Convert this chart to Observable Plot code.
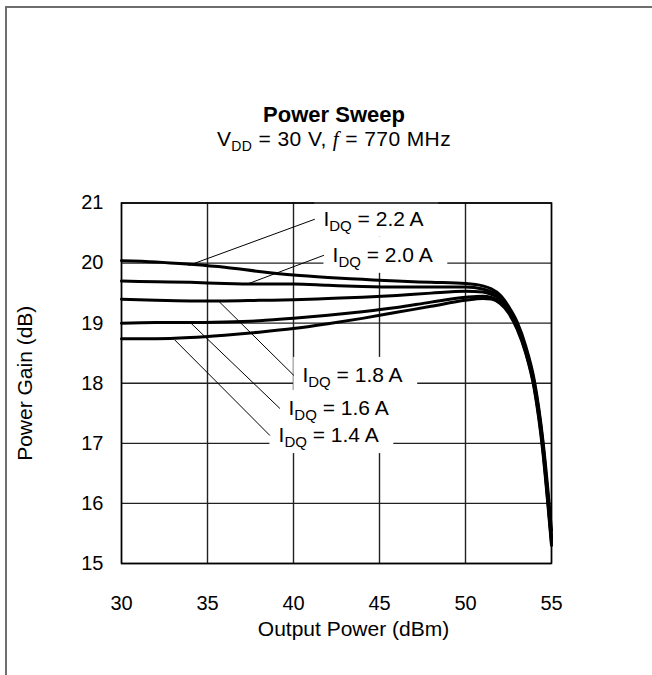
<!DOCTYPE html>
<html>
<head>
<meta charset="utf-8">
<script src="https://cdn.jsdelivr.net/npm/d3@7"></script>
<script src="https://cdn.jsdelivr.net/npm/@observablehq/plot@0.6"></script>
<style>
html, body { margin: 0; padding: 0; background: #fff; }
#page { position: relative; width: 652px; height: 675px; overflow: hidden;
        font-family: "Liberation Sans", Arial, sans-serif; color: #000; }
#border { position: absolute; left: 5px; top: 6px; width: 720px; height: 720px;
          border-left: 2px solid #6e6e6e; border-top: 2px solid #6e6e6e; pointer-events: none; }
#head { position: relative; height: 150px; }
#title { position: absolute; left: 0; width: 668px; top: 103px; text-align: center;
         font-weight: bold; font-size: 22px; line-height: 24px; }
#subtitle { position: absolute; left: 0; width: 668px; top: 127px; text-align: center;
            font-size: 21px; line-height: 24px; letter-spacing: 0.4px; }
#subtitle sub { font-size: 14px; vertical-align: -5px; line-height: 0; }
#subtitle i { font-family: "Liberation Serif", "DejaVu Serif", serif; font-style: italic; }
#chart { position: relative; }
</style>
</head>
<body>
<div id="page">
  <div id="border"></div>
  <div id="head">
    <div id="title">Power Sweep</div>
    <div id="subtitle">V<sub>DD</sub> = 30 V, <i>f</i> = 770 MHz</div>
  </div>
  <div id="chart"></div>
</div>
<script>
// ---- data ----
const xTicks = [30, 35, 40, 45, 50, 55];
const yTicks = [15, 16, 17, 18, 19, 20, 21];

// Output power sweep points (dBm)
const pout = [30, 32, 34, 36, 38, 40, 42, 44, 46, 48, 50, 51, 51.5, 52, 52.5, 53, 53.5, 54, 54.5, 54.8, 55];

// Power gain (dB) for each quiescent current
const gain22 = [20.04, 20.02, 19.98, 19.93, 19.86, 19.80, 19.76, 19.73, 19.70, 19.68, 19.66, 19.62, 19.57, 19.47, 19.28, 19.02, 18.62, 18.05, 17.05, 16.20, 15.55];
const gain20 = [19.70, 19.69, 19.68, 19.66, 19.65, 19.65, 19.63, 19.61, 19.60, 19.60, 19.60, 19.57, 19.52, 19.43, 19.25, 18.98, 18.58, 18.00, 17.00, 16.10, 15.45];
const gain18 = [19.40, 19.38, 19.37, 19.37, 19.38, 19.39, 19.41, 19.43, 19.46, 19.50, 19.53, 19.52, 19.48, 19.40, 19.22, 18.95, 18.55, 17.97, 16.95, 16.05, 15.40];
const gain16 = [19.00, 19.01, 19.01, 19.02, 19.04, 19.08, 19.13, 19.19, 19.26, 19.35, 19.43, 19.45, 19.43, 19.36, 19.19, 18.93, 18.52, 17.93, 16.90, 16.00, 15.35];
const gain14 = [18.74, 18.74, 18.76, 18.80, 18.85, 18.91, 18.99, 19.08, 19.18, 19.28, 19.38, 19.41, 19.40, 19.33, 19.17, 18.90, 18.50, 17.90, 16.85, 15.95, 15.30];

const seriesLabels = ["I_DQ = 2.2 A", "I_DQ = 2.0 A", "I_DQ = 1.8 A", "I_DQ = 1.6 A", "I_DQ = 1.4 A"];
const seriesGains = [gain22, gain20, gain18, gain16, gain14];

// callout: where the leader touches the curve, and where the label sits (data units)
const calloutCurveX = [33.9, 37.4, 35.6, 34.0, 33.1];
const calloutCurveY = [19.96, 19.66, 19.38, 19.01, 18.72];
const calloutLabelX = [41.74, 42.27, 40.52, 39.71, 39.13];
const calloutLabelY = [20.73, 20.13, 18.13, 17.58, 17.13];

// ---- tables built from the arrays ----
const rows = seriesLabels.flatMap((s, k) => pout.map((x, i) => ({series: s, x, y: seriesGains[k][i]})));
const callouts = seriesLabels.map((s, k) => ({
  text: s,
  cx: calloutCurveX[k], cy: calloutCurveY[k],
  lx: calloutLabelX[k], ly: calloutLabelY[k]
}));

const chart = Plot.plot({
  width: 652,
  height: 525,
  marginLeft: 121,
  marginRight: 101,
  marginTop: 52.5,
  marginBottom: 112,
  style: {fontFamily: "'Liberation Sans', Arial, sans-serif", fontSize: "20px", color: "black", background: "transparent", overflow: "visible"},
  x: {domain: [30, 55], ticks: xTicks, tickSize: 0, tickPadding: 32, tickFormat: d => String(d),
      label: "Output Power (dBm)", labelAnchor: "center", labelArrow: false, labelOffset: 72},
  y: {domain: [15, 21], ticks: yTicks, tickSize: 0, tickPadding: 18, tickFormat: d => String(d),
      label: "Power Gain (dB)", labelAnchor: "center", labelArrow: false, labelOffset: 104},
  marks: [
    Plot.ruleX(xTicks, {stroke: "#222", strokeWidth: 1.4}),
    Plot.ruleY(yTicks, {stroke: "#222", strokeWidth: 1.4}),
    Plot.rect(callouts, {x1: d => d.lx - 0.5, x2: d => d.lx + 6.7, y1: d => d.ly - 0.3, y2: d => d.ly + 0.3, fill: "white"}),
    Plot.line(rows, {x: "x", y: "y", z: "series", stroke: "black", strokeWidth: 3, curve: "monotone-x"}),
    Plot.link(callouts, {x1: "cx", y1: "cy", x2: d => d.lx - 0.5, y2: "ly", stroke: "black", strokeWidth: 1}),
    Plot.text(callouts, {x: "lx", y: "ly", text: "text", textAnchor: "start", fontSize: 21, fill: "black"}),
    Plot.frame({stroke: "black", strokeWidth: 1.5})
  ]
});

// axis titles a bit larger than the tick labels; x title sits a little right of centre
chart.querySelectorAll("text").forEach(t => {
  const s = t.textContent;
  if (s === "Output Power (dBm)") { t.setAttribute("font-size", "21"); t.setAttribute("dx", "17"); }
  if (s === "Power Gain (dB)") t.setAttribute("font-size", "21");
});

// turn "I_DQ" into I with a DQ subscript
chart.querySelectorAll("text").forEach(t => {
  const s = t.textContent;
  if (s.startsWith("I_DQ")) {
    const rest = s.slice(4);
    while (t.firstChild) t.removeChild(t.firstChild);
    const ns = "http://www.w3.org/2000/svg";
    const a = document.createElementNS(ns, "tspan"); a.textContent = "I";
    const b = document.createElementNS(ns, "tspan"); b.textContent = "DQ";
    b.setAttribute("font-size", "15"); b.setAttribute("dy", "5");
    const c = document.createElementNS(ns, "tspan"); c.textContent = rest;
    c.setAttribute("dy", "-5");
    t.append(a, b, c);
  }
});

document.getElementById("chart").appendChild(chart);
</script>
</body>
</html>
